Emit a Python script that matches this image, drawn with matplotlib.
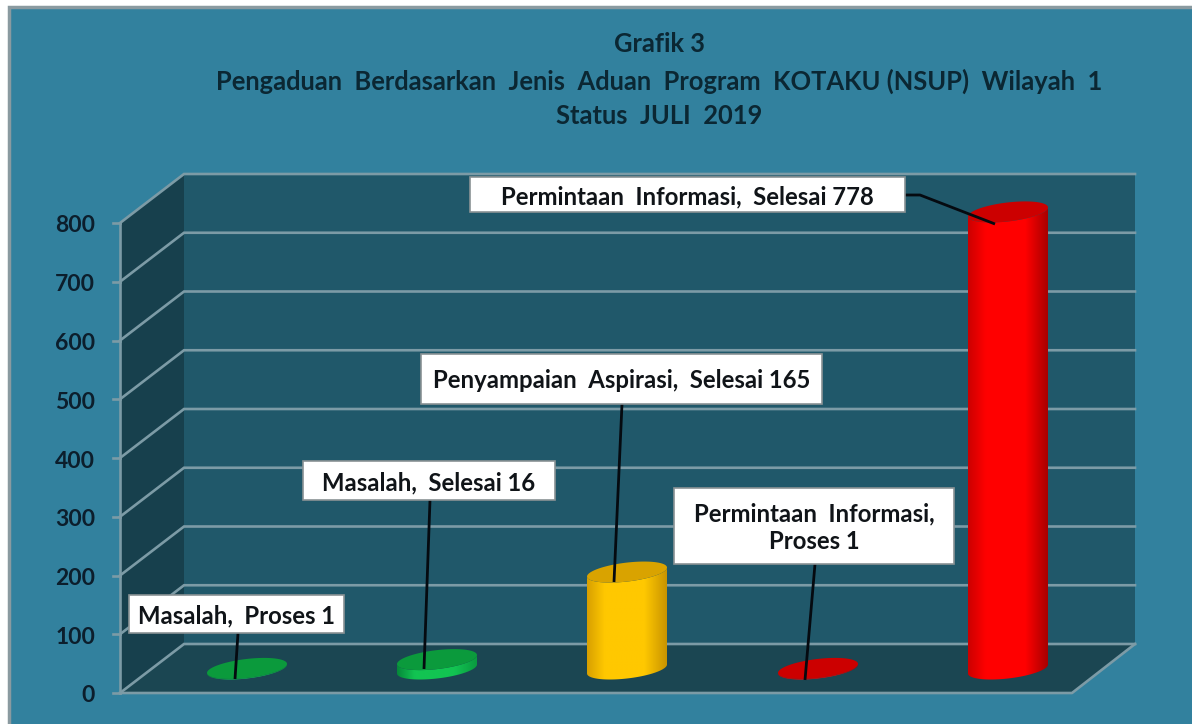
import matplotlib
matplotlib.use("Agg")
import matplotlib.pyplot as plt
from matplotlib.patches import Polygon, Rectangle
from matplotlib.colors import LinearSegmentedColormap
import numpy as np

plt.rcParams['font.family'] = ['Lato', 'DejaVu Sans']

title_lines = ["Grafik 3",
               "Pengaduan  Berdasarkan  Jenis  Aduan  Program  KOTAKU (NSUP)  Wilayah  1",
               "Status  JULI  2019"]
y_ticks = [0, 100, 200, 300, 400, 500, 600, 700, 800]
categories = ["Masalah, Proses", "Masalah, Selesai", "Penyampaian Aspirasi, Selesai",
              "Permintaan Informasi, Proses", "Permintaan Informasi, Selesai"]
values = [1, 16, 165, 1, 778]
top_colors = ['#0b9a3c', '#0b9a3c', '#d9a300', '#cc0000', '#cc0000']
side_colors = [['#06893a', '#12c452', '#0a9a40'],
               ['#06893a', '#12c452', '#0a9a40'],
               ['#d8a000', '#ffc800', '#c99400'],
               ['#cc0000', '#ff0000', '#a80000'],
               ['#cc0000', '#ff0000', '#a80000']]
labels = ["Masalah,  Proses 1", "Masalah,  Selesai 16", "Penyampaian  Aspirasi,  Selesai 165",
          "Permintaan  Informasi,\nProses 1", "Permintaan  Informasi,  Selesai 778"]
# label boxes x0, x1, y0, y1 in pixels
label_boxes = [(129, 344, 595, 633), (303, 555, 461, 500), (421, 822, 354, 404),
               (674, 954, 488, 564), (470, 905, 177, 212)]
leaders = [[(238, 633), (235, 679)], [(430, 500), (424, 669)], [(622, 404), (614, 582)],
           [(815, 564), (805, 680)], [(905, 195), (920, 195), (995, 224)]]

BG = '#32819e'
GRID = '#7c9ba6'
TXT = '#0c1e2c'

fig = plt.figure(figsize=(11.92, 7.24), dpi=100, facecolor='white')
ax = fig.add_axes([0, 0, 1, 1])
ax.set_xlim(0, 1192)
ax.set_ylim(724, 0)
ax.axis('off')

ax.add_patch(Rectangle((9, 7), 1200, 730, fc=BG, ec='#8a9aa0', lw=2.5, zorder=0))

# 3d box geometry
x_front, x_back, x_right = 120, 184, 1135
x_front_right = 1072
y0_front, y0_back, y0_bar = 693, 644, 669
scale = 470 / 800


def vy(v, base):
    return base - v * scale


top = y_ticks[-1]
ax.add_patch(Polygon([(x_back, vy(0, y0_back)), (x_right, vy(0, y0_back)),
                      (x_right, vy(top, y0_back)), (x_back, vy(top, y0_back))],
                     fc='#20586a', ec='none', zorder=1))
ax.add_patch(Polygon([(x_front, vy(0, y0_front)), (x_back, vy(0, y0_back)),
                      (x_back, vy(top, y0_back)), (x_front, vy(top, y0_front))],
                     fc='#17404d', ec='none', zorder=1))
ax.add_patch(Polygon([(x_front, y0_front), (x_front_right, y0_front),
                      (x_right, y0_back), (x_back, y0_back)],
                     fc='#1b4652', ec='none', zorder=1))

for t in y_ticks:
    yb = vy(t, y0_back)
    yf = vy(t, y0_front)
    ax.plot([x_front, x_back, x_right], [yf, yb, yb], color=GRID, lw=1.9, zorder=2,
            solid_joinstyle='miter')
    ax.plot([x_front - 7, x_front], [yf, yf], color=GRID, lw=1.9, zorder=2)
    ax.text(95, yf + 3, str(t), ha='right', va='center', fontsize=16.5,
            fontweight='bold', color=TXT, zorder=6)
ax.plot([x_front, x_front], [vy(top, y0_front), y0_front], color=GRID, lw=1.9, zorder=2)
ax.plot([x_front, x_front_right, x_right], [y0_front, y0_front, y0_back], color=GRID, lw=1.9, zorder=2)

# cylinders
centers = [247, 437, 627, 818, 1008]
half_w = 40
t = np.linspace(0, 2 * np.pi, 121)
for cx, v, tc, sc in zip(centers, values, top_colors, side_colors):
    y_top = vy(v, y0_bar)
    ex = half_w * np.cos(t)
    ey = -4.5 * np.cos(t) + 9.5 * np.sin(t)
    # body outline: bottom half of the base ellipse, top half of the top ellipse
    low = np.sin(t) >= 0
    idx = np.argsort(ex[low])
    bx, by = ex[low][idx] + cx, ey[low][idx] + y0_bar
    tx, ty = bx[::-1], ey[low][idx][::-1] + y_top
    body = Polygon(np.r_[np.c_[bx, by], np.c_[tx, ty]], closed=True, transform=ax.transData)
    cmap = LinearSegmentedColormap.from_list('c', [(0, sc[0]), (0.22, sc[1]), (0.72, sc[1]), (1, sc[2])])
    im = ax.imshow(np.linspace(0, 1, 128)[np.newaxis, :], cmap=cmap, aspect='auto', zorder=3,
                   extent=(cx - half_w, cx + half_w, y0_bar + 12, y_top - 12))
    im.set_clip_path(body)
    ax.fill(cx + ex, y_top + ey, color=tc, lw=0, zorder=4)
ax.set_xlim(0, 1192)
ax.set_ylim(724, 0)

# data labels
for lab, (x0, x1, y0, y1), pts in zip(labels, label_boxes, leaders):
    xs, ys = zip(*pts)
    ax.plot(xs, ys, color='#050a10', lw=2, zorder=5, solid_capstyle='butt')
    ax.add_patch(Rectangle((x0, y0), x1 - x0, y1 - y0, fc='white', ec='#8a9295', lw=1.2, zorder=6))
    ax.text((x0 + x1) / 2, (y0 + y1) / 2 + 2, lab, ha='center', va='center', fontsize=17.2,
            fontweight='bold', color='#101418', zorder=7, linespacing=1.25, multialignment='center')

for line, y in zip(title_lines, [44, 81, 116]):
    ax.text(659, y, line, ha='center', va='center', fontsize=18.4, fontweight='bold',
            color='#0b2733', zorder=7)

fig.savefig("out.png", dpi=100, facecolor='white')
